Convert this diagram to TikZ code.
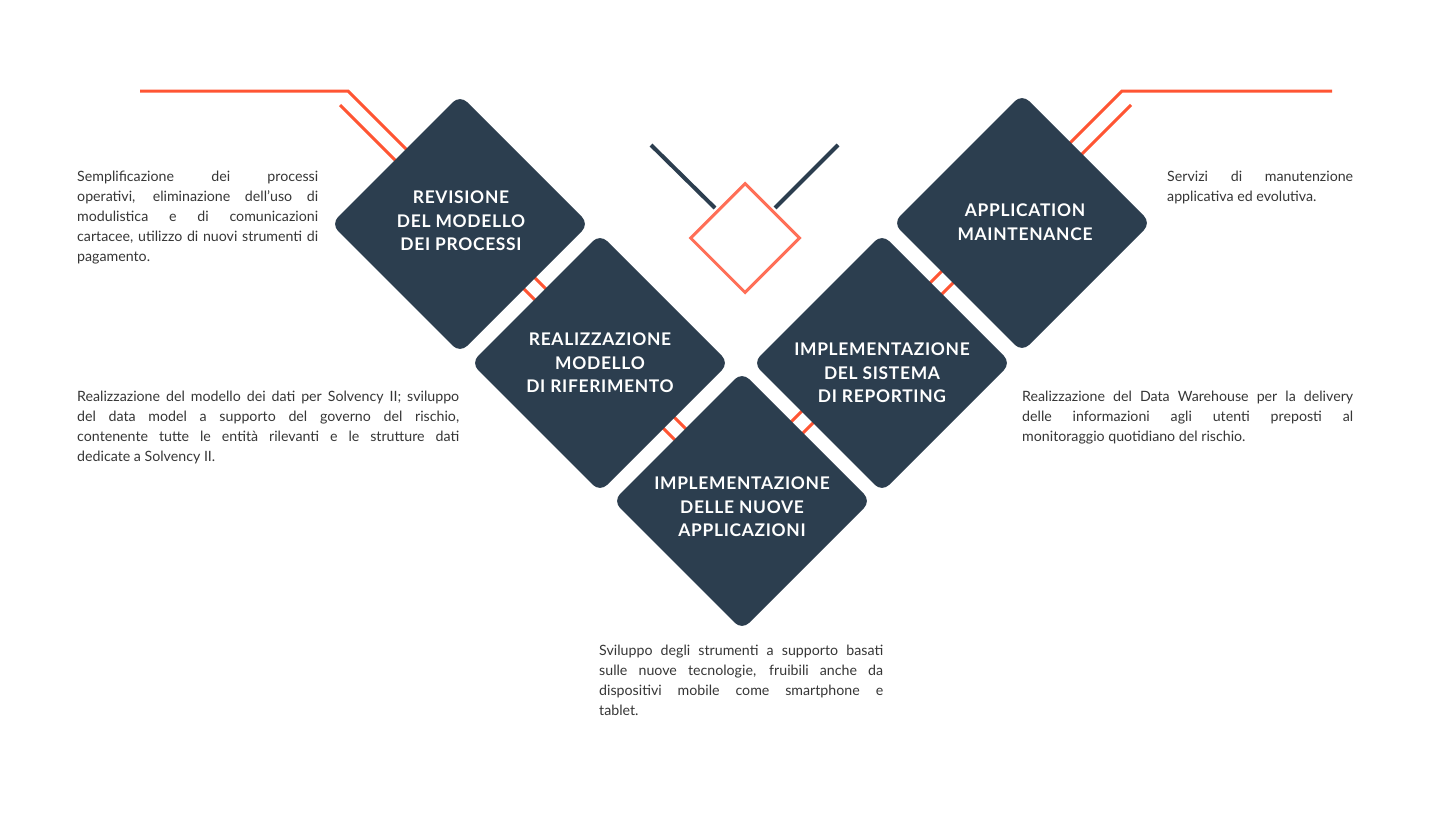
\documentclass[tikz,border=0pt]{standalone}
\usepackage{fontspec}
\setmainfont{Lato}
\newfontfamily\lblfont{Lato}[LetterSpace=4.0]
\usetikzlibrary{shapes.geometric,calc}
\definecolor{navy}{HTML}{2C3E4F}
\definecolor{orng}{HTML}{FF5533}
\definecolor{coral}{HTML}{FF6F57}
\definecolor{txt}{HTML}{363636}
\newcommand{\jline}[1]{\hbox to \linewidth{\spaceskip=\fontdimen2\font plus 1fil minus \fontdimen4\font\relax #1}}
\newenvironment{descbox}[1]{\begin{minipage}[t]{#1}\fontsize{14.2}{20}\selectfont}{\end{minipage}}
\begin{document}
\begin{tikzpicture}[x=1pt,y=-1pt,
  stepdia/.style={shape=diamond, aspect=1, minimum width=258pt, minimum height=258pt, inner sep=0pt, outer sep=0pt, fill=navy, rounded corners=10pt},
  dlabel/.style={text=white, font=\lblfont\fontsize{17.4}{23.5}\selectfont\bfseries, align=center, inner sep=0pt},
  desc/.style={text=txt, inner sep=0pt, anchor=base west},
  oline/.style={draw=orng, line width=3pt},
  dline/.style={draw=navy, line width=4pt},
]
\useasboundingbox[fill=white] (0,0) rectangle (1430,830);

% anchor coordinates of the orange lines
\coordinate (la1) at (140,91);
\coordinate (la2) at (348,91);
\coordinate (la3) at (740,483);
\coordinate (lb1) at (340,105);
\coordinate (lb2) at (730,495);
\coordinate (lc1) at (1332,91);
\coordinate (lc2) at (1122,91);
\coordinate (lc3) at (745,468);
\coordinate (ld1) at (1131,105);
\coordinate (ld2) at (750,486);

\draw[oline] (la1) -- (la2) -- (la3);
\draw[oline] (lb1) -- (lb2);
\draw[oline] (lc1) -- (lc2) -- (lc3);
\draw[oline] (ld1) -- (ld2);

% diamonds
\node[stepdia] (d1) at (460,224) {};
\node[stepdia] (d2) at (600,363) {};
\node[stepdia] (d3) at (742,501) {};
\node[stepdia] (d4) at (882,363) {};
\node[stepdia] (d5) at (1022,223) {};

\node[dlabel] (l1) at ($(d1)+(1,-3)$) {REVISIONE\\DEL MODELLO\\DEI PROCESSI};
\node[dlabel] (l2) at ($(d2)+(0,0)$) {REALIZZAZIONE\\MODELLO\\DI RIFERIMENTO};
\node[dlabel] (l3) at ($(d3)+(0,6)$) {IMPLEMENTAZIONE\\DELLE NUOVE\\APPLICAZIONI};
\node[dlabel] (l4) at ($(d4)+(0,10)$) {IMPLEMENTAZIONE\\DEL SISTEMA\\DI REPORTING};
\node[dlabel] (l5) at ($(d5)+(3,-1)$) {APPLICATION\\MAINTENANCE};

% central ornament
\node[shape=diamond, aspect=1, minimum width=110pt, minimum height=110pt, inner sep=0pt, draw=coral, line width=3pt] (cd) at (745,238) {};
\coordinate (k1) at (651,145);
\coordinate (k2) at (715,208);
\coordinate (k3) at (838,145);
\coordinate (k4) at (775,208);
\draw[dline] (k1) -- (k2);
\draw[dline] (k3) -- (k4);

% descriptions
\node[desc] (t1) at (77,181) {\begin{descbox}{241pt}%
\jline{Semplificazione dei processi}%
\jline{operativi, eliminazione dell’uso di}%
\jline{modulistica e di comunicazioni}%
\jline{cartacee, utilizzo di nuovi strumenti di}%
\noindent pagamento.\end{descbox}};

\node[desc] (t2) at (77,401) {\begin{descbox}{382pt}%
\jline{Realizzazione del modello dei dati per Solvency II; sviluppo}%
\jline{del data model a supporto del governo del rischio,}%
\jline{contenente tutte le entità rilevanti e le strutture dati}%
\noindent dedicate a Solvency II.\end{descbox}};

\node[desc] (t3) at (599,655) {\begin{descbox}{284pt}%
\jline{Sviluppo degli strumenti a supporto basati}%
\jline{sulle nuove tecnologie, fruibili anche da}%
\jline{dispositivi mobile come smartphone e}%
\noindent tablet.\end{descbox}};

\node[desc] (t4) at (1022,401) {\begin{descbox}{331pt}%
\jline{Realizzazione del Data Warehouse per la delivery}%
\jline{delle informazioni agli utenti preposti al}%
\noindent monitoraggio quotidiano del rischio.\end{descbox}};

\node[desc] (t5) at (1167,181) {\begin{descbox}{186pt}%
\jline{Servizi di manutenzione}%
\noindent applicativa ed evolutiva.\end{descbox}};
\end{tikzpicture}
\end{document}
